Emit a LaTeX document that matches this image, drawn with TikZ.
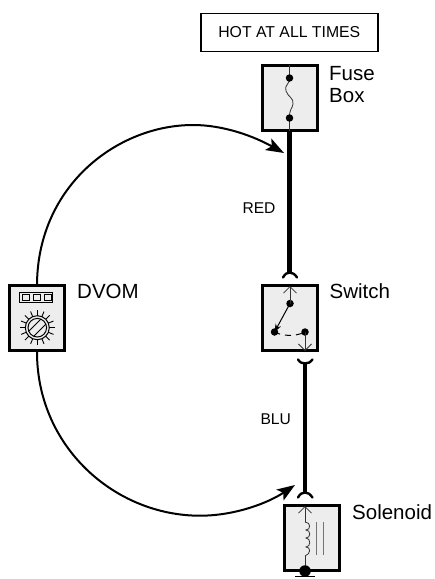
\documentclass[tikz,border=0pt]{standalone}
\usepackage{fontspec}
\setmainfont{Liberation Sans}
\usetikzlibrary{arrows.meta}
\tikzset{
 x=1pt,y=-1pt,
 devbox/.style={draw=black,line width=3pt,fill=black!7,minimum width=55pt,minimum height=65pt,inner sep=0pt},
 thinw/.style={line width=0.8pt,draw=black!80},
 bus/.style={line width=4.8pt,line cap=butt},
 fork/.style={line width=2.4pt,line cap=round,line join=round},
 probe/.style={line width=2pt,-{Stealth[length=18pt,width=13pt,inset=4pt]}},
 lbl/.style={font=\fontsize{20.5}{22}\selectfont,anchor=west,align=left,inner sep=0pt},
 wlbl/.style={font=\fontsize{15.6}{17}\selectfont,inner sep=0pt},
 dot/.style={circle,fill=black,inner sep=0pt,minimum size=7.5pt},
 openarrow/.style={thinw,-{Straight Barb[length=6.5pt,width=13pt]}}
}
\begin{document}
\begin{tikzpicture}
\useasboundingbox (0,0) rectangle (435,579);
\node[draw,line width=1.5pt,minimum width=177pt,minimum height=38pt,inner sep=0pt,font=\fontsize{15.8}{18}\selectfont] (hot) at (289.3,32.5) {HOT AT ALL TIMES};
% boxes
\node[devbox] (fuse) at (289.5,98) {};
\node[devbox] (switch) at (289.5,318) {};
\node[devbox] (sol) at (312,538) {};
\node[devbox] (dvom) at (36.5,318) {};
% labels
\node[lbl] (lfuse) at (329,85) {Fuse\\Box};
\node[lbl] (lsw) at (329.5,291) {Switch};
\node[lbl] (lsol) at (352,512) {Solenoid};
\node[lbl] (ldv) at (77,291) {DVOM};
\node[wlbl] (lred) at (259,208) {RED};
\node[wlbl] (lblu) at (275.7,419.5) {BLU};
% coordinates for wires
\coordinate (fb) at (289.5,132);
\coordinate (swT) at (289.5,273);
\coordinate (swB) at (305,363);
\coordinate (solT) at (305,493);
% wires
\draw[bus] (fb) -- (swT);
\draw[fork] (283,277.5) .. controls (285,274) and (287,272.5) .. (289.5,272.5) .. controls (292,272.5) and (295,274) .. (297,277.5);
\draw[bus] (swB) -- (solT);
\draw[fork] (298,359.5) .. controls (300,362.5) and (302,363.5) .. (305,363.5) .. controls (308,363.5) and (310,362.5) .. (312.5,359.5);
\draw[fork] (298,497.5) .. controls (300,494) and (302,492.5) .. (305,492.5) .. controls (308,492.5) and (310,494) .. (312.5,497.5);
% probes
\coordinate (dvT) at (37,284);
\coordinate (dvB) at (37,352);
\coordinate (tipT) at (284,153);
\coordinate (tipB) at (295,485);
\draw[probe] (dvT) .. controls (38,185) and (118,125) .. (193,125) .. controls (225,125) and (255,137) .. (tipT);
\draw[probe] (dvB) .. controls (37,447) and (115,515.7) .. (200,515.7) .. controls (235,515.7) and (268,503) .. (tipB);
% fuse
\coordinate (f1) at (289.5,78);
\coordinate (f2) at (289.5,118);
\draw[thinw] (289.5,65) -- (f1);
\draw[thinw] (f2) -- (289.5,131);
\draw[thinw] (f1) .. controls (289.5,85) and (284,85) .. (286,91) .. controls (288,97) and (294,98) .. (293,104) .. controls (292,110) and (289.5,108) .. (f2);
\node[dot] (fd1) at (f1) {};
\node[dot] (fd2) at (f2) {};
% switch
\node[dot] (s1) at (290,303.5) {};
\node[dot] (s2) at (274.5,332) {};
\node[dot] (s3) at (305,332) {};
\draw[openarrow] (s1.center) -- (290,286);
\draw[openarrow] (s3.center) -- (305,351);
\draw[line width=1pt,-{Stealth[length=8pt,width=6pt]}] (s1.center) -- (s2.center);
\draw[line width=1pt,dash pattern=on 6pt off 5pt] (s2.center) .. controls (282,336) and (295,337) .. (s3.center);
% solenoid
\coordinate (c1) at (305,522);
\coordinate (c2) at (305,556);
\draw[openarrow] (c1) -- (305,506);
\draw[thinw] (c1) .. controls (311,522) and (311,530) .. (306,530) .. controls (311,530) and (311,538) .. (306,538) .. controls (311,538) and (311,547) .. (306,547) .. controls (311,547) and (311,554) .. (c2);
\draw[thinw] (c2) -- (305,570);
\draw[line width=1.2pt,black!55] (316.7,521.5) -- (316.7,555) (323.3,521.5) -- (323.3,555);
\node[circle,fill=black,inner sep=0pt,minimum size=11.5pt] (gnd) at (305,571) {};
\draw[line width=1.2pt] (295,576.5) -- (315,576.5);
% dvom face
\node[draw,line width=1.2pt,minimum width=33pt,minimum height=10.5pt,inner sep=0pt] (disp) at (36,297.5) {};
\draw[line width=1pt] (22.7,294.5) rectangle (29.7,300.5) (33.5,294.5) rectangle (40.5,300.5) (44,294.5) rectangle (51,300.5);
\coordinate (dial) at (37.3,327.7);
\draw[line width=1pt] (dial) circle (12);
\draw[line width=1pt] (dial) circle (9.3);
\draw[line width=1pt] ([shift={(-8.5,3.5)}]dial) -- ([shift={(3.5,-8.5)}]dial) ([shift={(-3.5,8.5)}]dial) -- ([shift={(8.5,-3.5)}]dial);
\foreach \a in {0,22.5,...,337.5} \draw[line width=0.9pt] ([shift={(\a:12)}]dial) -- ([shift={(\a:17.5)}]dial);
\end{tikzpicture}
\end{document}
